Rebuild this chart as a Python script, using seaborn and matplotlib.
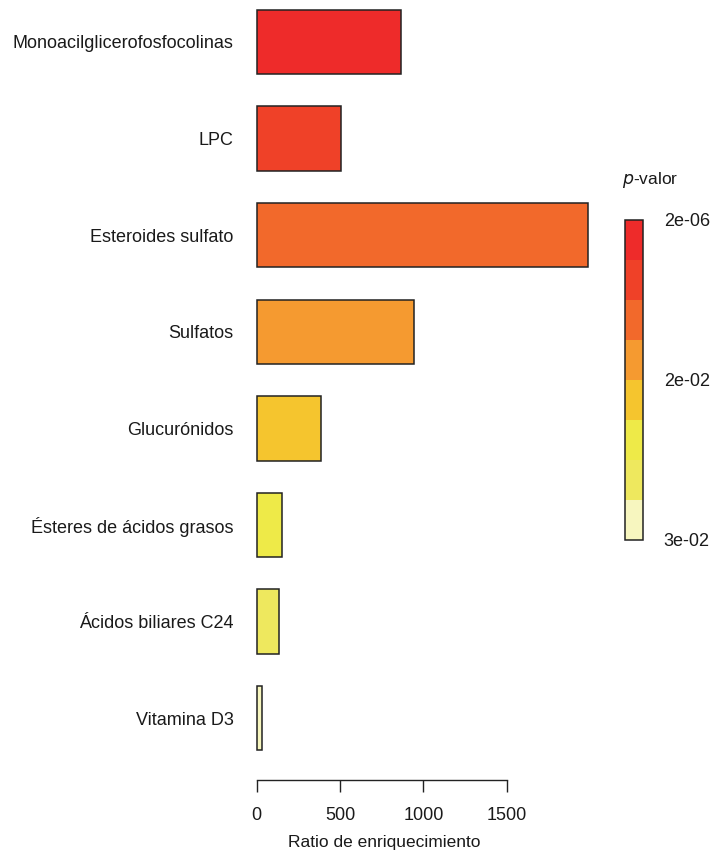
import matplotlib
matplotlib.use("Agg")
import matplotlib.pyplot as plt
from matplotlib.colors import ListedColormap, BoundaryNorm
import matplotlib.cm as cm
import seaborn as sns
import pandas as pd

# Enrichment results per lipid/metabolite class
categories = [
    "Monoacilglicerofosfocolinas",
    "LPC",
    "Esteroides sulfato",
    "Sulfatos",
    "Glucurónidos",
    "Ésteres de ácidos grasos",
    "Ácidos biliares C24",
    "Vitamina D3",
]
ratios = [866, 504, 1988, 944, 386, 152, 136, 34]
bar_colors = [
    "#EE2B2A", "#EF4128", "#F2692B", "#F59A30",
    "#F5C52E", "#EEEA48", "#EEE85E", "#F7F6BF",
]
pval_tick_labels = ["2e-06", "2e-02", "3e-02"]
x_ticks = [0, 500, 1000, 1500]

sns.set_style("white")
plt.rcParams["font.family"] = ["Liberation Sans", "DejaVu Sans"]
plt.rcParams["text.color"] = "#1a1a1a"
plt.rcParams["xtick.color"] = "#1a1a1a"
plt.rcParams["ytick.color"] = "#1a1a1a"
plt.rcParams["axes.labelcolor"] = "#1a1a1a"

df = pd.DataFrame({"clase": categories, "ratio": ratios})

fig = plt.figure(figsize=(7.16, 8.52), dpi=100)
ax = fig.add_axes([0.3401, 0.0845, 0.4999, 0.9116])

sns.barplot(
    data=df, x="ratio", y="clase", hue="clase",
    palette=dict(zip(categories, bar_colors)), saturation=1,
    order=categories, orient="h", width=0.667,
    edgecolor="#222222", linewidth=1.1, legend=False, ax=ax,
)

ax.set_xlim(-79.5, 2067.5)
ax.set_ylim(7.64, -0.4)
for side in ["top", "right", "left"]:
    ax.spines[side].set_visible(False)
ax.spines["bottom"].set_bounds(0, 1500)
ax.spines["bottom"].set_color("#222222")
ax.spines["bottom"].set_linewidth(1.0)
ax.set_xticks(x_ticks)
ax.set_xticklabels([str(t) for t in x_ticks])
ax.tick_params(axis="x", length=8.6, width=1.0, color="#222222",
               labelsize=13, pad=11, bottom=True)
ax.tick_params(axis="y", length=0, labelsize=13, pad=7)
ax.set_ylabel("")
ax.set_xlabel("Ratio de enriquecimiento", fontsize=12.5)
# centre the axis title under the drawn part of the axis (0 to 1500)
ax.xaxis.set_label_coords(0.3926, -0.0705)

# Discrete p-value colour key
cax = fig.add_axes([625 / 716, 1 - 540 / 852, 18 / 716, 320 / 852])
cmap = ListedColormap(bar_colors[::-1])
norm = BoundaryNorm(list(range(len(bar_colors) + 1)), cmap.N)
cb = fig.colorbar(cm.ScalarMappable(norm=norm, cmap=cmap), cax=cax,
                  ticks=[8, 4, 0])
cb.set_ticklabels(pval_tick_labels)
cb.minorticks_off()
cb.outline.set_edgecolor("#222222")
cb.outline.set_linewidth(1.1)
cax.tick_params(which="both", length=0, labelsize=13, pad=15)
fig.text(622 / 716, 1 - 180 / 852, r"$\it{p}$-valor", fontsize=12.5,
         va="center", ha="left")

fig.savefig("out.png", dpi=100)
